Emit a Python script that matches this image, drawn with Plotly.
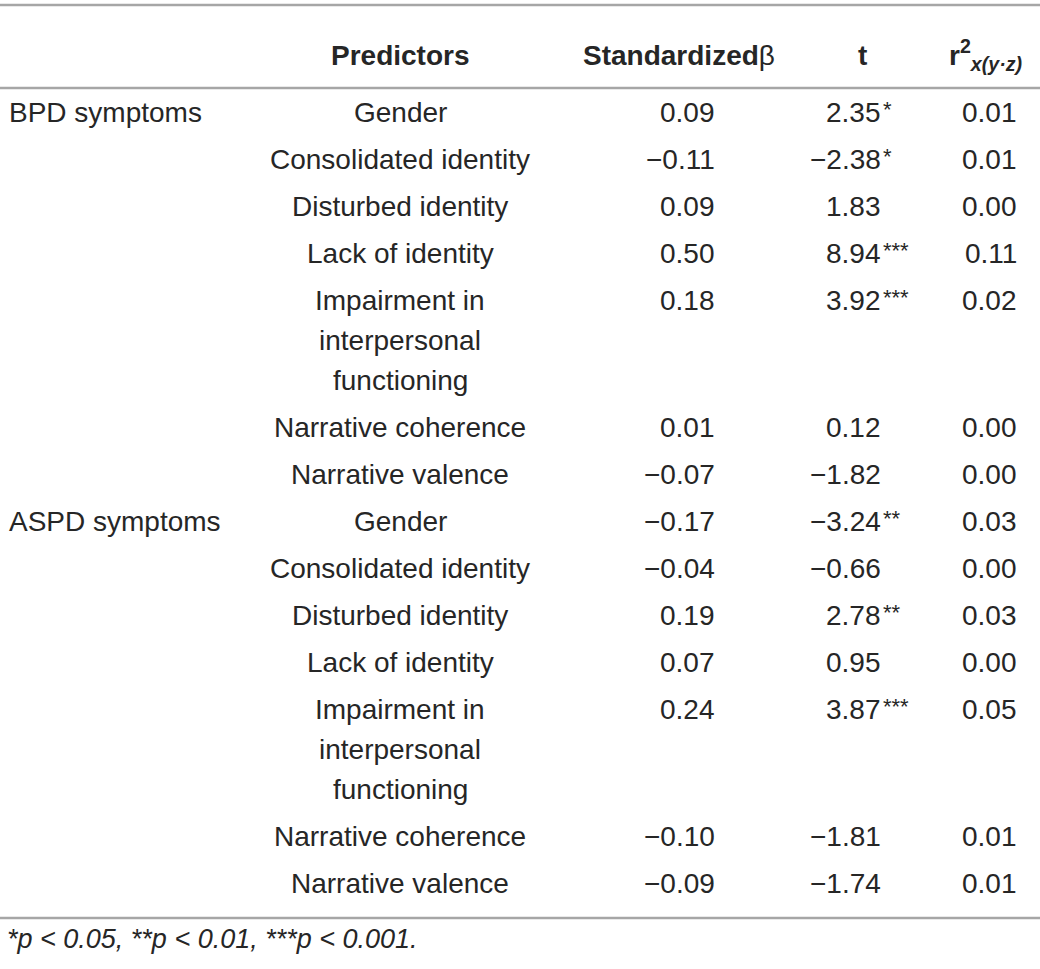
import plotly.graph_objects as go

# ---------------- data ----------------
groups = ["BPD symptoms", "ASPD symptoms"]
predictors = [
    ["Gender"],
    ["Consolidated identity"],
    ["Disturbed identity"],
    ["Lack of identity"],
    ["Impairment in", "interpersonal", "functioning"],
    ["Narrative coherence"],
    ["Narrative valence"],
]
beta_bpd = [0.09, -0.11, 0.09, 0.50, 0.18, 0.01, -0.07]
t_bpd = [2.35, -2.38, 1.83, 8.94, 3.92, 0.12, -1.82]
sig_bpd = ["*", "*", "", "***", "***", "", ""]
r2_bpd = [0.01, 0.01, 0.00, 0.11, 0.02, 0.00, 0.00]

beta_aspd = [-0.17, -0.04, 0.19, 0.07, 0.24, -0.10, -0.09]
t_aspd = [-3.24, -0.66, 2.78, 0.95, 3.87, -1.81, -1.74]
sig_aspd = ["**", "", "**", "", "***", "", ""]
r2_aspd = [0.03, 0.00, 0.03, 0.00, 0.05, 0.01, 0.01]

header = ["Predictors", "Standardized", "t"]
footnote = "<i>*p < 0.05, **p < 0.01, ***p < 0.001.</i>"

# ---------------- layout constants ----------------
W, H = 1040, 969
FONT = "Liberation Sans, Arial, Helvetica, sans-serif"
TXT = "#262626"
RULE = "#a6a6a6"
FS = 28

X_GROUP = 7
X_PRED = 400
X_BETA = 717
X_T = 883
X_R2 = 1019

Y_TOP_RULE = 5
Y_HEADER = 55
Y_HEAD_RULE = 88
Y_FIRST = 112
ROW_STEP = 47
LINE_STEP = 40
Y_BOT_RULE = 918
Y_FOOT = 939


def fmt(v):
    s = f"{abs(v):.2f}"
    return ("\u2212" + s) if v < 0 else s


ann = []


def text(x, y, s, anchor="center", bold=False, size=FS):
    if bold:
        s = f"<b>{s}</b>"
    ann.append(dict(x=x, y=y, xref="x", yref="y", text=s, showarrow=False,
                    xanchor=anchor, yanchor="middle",
                    font=dict(family=FONT, size=size, color=TXT)))


# header
text(X_PRED, Y_HEADER, header[0], bold=True)
text(777, Y_HEADER, header[1] + "<span style='font-weight:normal'>β</span>", anchor="right", bold=True)
text(862, Y_HEADER, header[2], bold=True)
text(947, Y_HEADER, "<b>r<sup>2</sup><sub><i>x(y·z)</i></sub></b>", anchor="left")

# body
y = Y_FIRST
datasets = [
    (beta_bpd, t_bpd, sig_bpd, r2_bpd),
    (beta_aspd, t_aspd, sig_aspd, r2_aspd),
]
for g, (betas, ts, sigs, r2s) in zip(groups, datasets):
    text(X_GROUP, y, g, anchor="left")
    for i, lines in enumerate(predictors):
        for k, ln in enumerate(lines):
            text(X_PRED, y + k * LINE_STEP, ln)
        text(X_BETA, y, fmt(betas[i]), anchor="right")
        text(X_T, y, fmt(ts[i]), anchor="right")
        if sigs[i]:
            text(X_T - 2, y - 3, sigs[i], anchor="left", size=22)
        text(X_R2, y, fmt(r2s[i]), anchor="right")
        y += (len(lines) - 1) * LINE_STEP + ROW_STEP

# footnote
text(X_GROUP - 2, Y_FOOT, footnote, anchor="left", size=27)

fig = go.Figure()
fig.add_trace(go.Scatter(x=[0, W], y=[0, H], mode="markers",
                         marker=dict(opacity=0), hoverinfo="skip", showlegend=False))

shapes = []
for yy in (Y_TOP_RULE, Y_HEAD_RULE, Y_BOT_RULE):
    shapes.append(dict(type="line", xref="x", yref="y", x0=0, x1=W, y0=yy, y1=yy,
                       line=dict(color=RULE, width=2.5)))

fig.update_layout(
    width=W, height=H,
    margin=dict(l=0, r=0, t=0, b=0),
    paper_bgcolor="white", plot_bgcolor="white",
    xaxis=dict(range=[0, W], visible=False, fixedrange=True),
    yaxis=dict(range=[H, 0], visible=False, fixedrange=True),
    annotations=ann, shapes=shapes, showlegend=False,
)
fig.write_html("out.html", config={"displayModeBar": False},
               post_script="document.body.style.margin='0';document.body.style.overflow='hidden';")
